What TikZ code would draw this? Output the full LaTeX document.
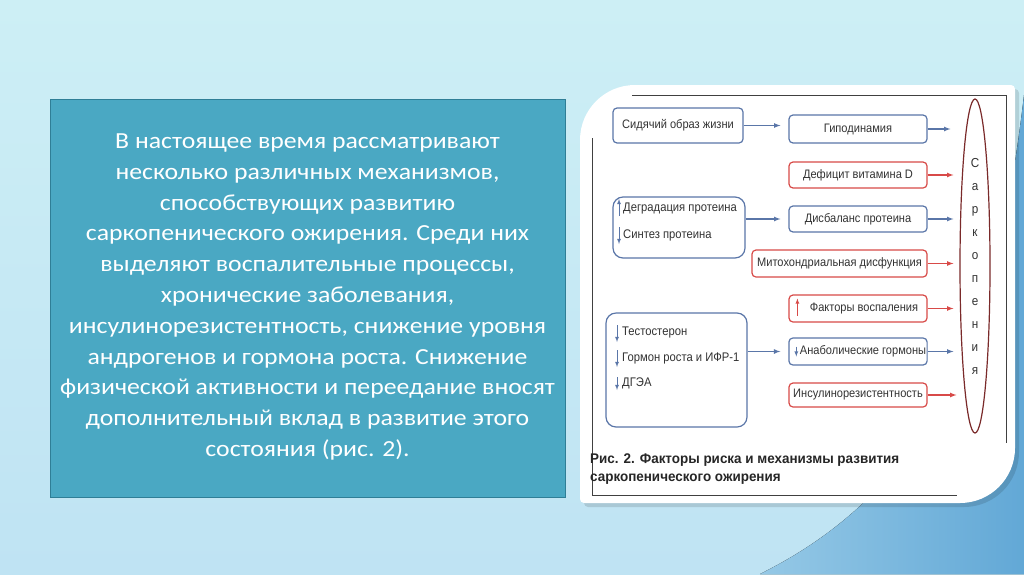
\documentclass[tikz,border=0pt]{standalone}
\usepackage{fontspec}
\setmainfont{Carlito}
\newfontfamily\slidefont[FakeStretch=1.12]{Carlito}
\newfontfamily\figfont[FakeStretch=0.9]{Liberation Sans}
\newfontfamily\capfont[FakeStretch=0.96]{Liberation Sans}
\usetikzlibrary{shapes.geometric,positioning}
\definecolor{bgtop}{HTML}{CDEFF5}
\definecolor{bgbot}{HTML}{BFE3F3}
\definecolor{bgblue}{HTML}{62A8D6}
\definecolor{tealbox}{HTML}{4AA8C3}
\definecolor{tealedge}{HTML}{2F7E96}
\definecolor{boxblue}{HTML}{5A76A8}
\definecolor{boxred}{HTML}{D84A48}
\definecolor{sarkred}{HTML}{7A2A2A}
\definecolor{figtext}{HTML}{333333}

\tikzset{
  bbox/.style={draw=boxblue, line width=1.2pt, rounded corners=4pt, fill=white,
    minimum width=138pt, minimum height=27pt, inner sep=2pt,
    font=\figfont\fontsize{12.3}{15}\selectfont, text=figtext},
  rbox/.style={bbox, draw=boxred},
  bigbox/.style={bbox, rounded corners=10pt},
  itemtxt/.style={anchor=west, inner sep=0pt, font=\figfont\fontsize{12.5}{15}\selectfont, text=figtext},
  barr/.style={-latex, draw=boxblue, line width=1.2pt},
  rarr/.style={-latex, draw=boxred, line width=1.2pt},
  smallarr/.style={-latex, draw=boxblue, line width=0.8pt},
}

\begin{document}
\begin{tikzpicture}[x=1pt,y=-1pt]
  \useasboundingbox (0,0) rectangle (1024,574);
  % background
  \fill[top color=bgtop, bottom color=bgbot] (0,0) rectangle (1024,574);
  \fill[left color=bgblue!45!bgbot, right color=bgblue] (1024,95) .. controls (1000,300) and (950,480) .. (760,574) -- (1024,574) -- cycle;

  % left text panel
  \fill[tealbox, draw=tealedge, line width=1pt] (50,99) rectangle (565,497);
  \node[text=white, align=center, font=\slidefont\fontsize{23}{30.8}\selectfont] (txt) at (307.5,297)
    {В настоящее время рассматривают\\
     несколько различных механизмов,\\
     способствующих развитию\\
     саркопенического ожирения. Среди них\\
     выделяют воспалительные процессы,\\
     хронические заболевания,\\
     инсулинорезистентность, снижение уровня\\
     андрогенов и гормона роста. Снижение\\
     физической активности и переедание вносят\\
     дополнительный вклад в развитие этого\\
     состояния (рис. 2).};

  % figure panel
  \fill[black, opacity=0.12] (584,307) [rounded corners=55pt] -- (584,89) [rounded corners=4pt] -- (1019,89) [rounded corners=55pt] -- (1019,507) [rounded corners=4pt] -- (584,507) -- cycle;
  \fill[white] (580,300) [rounded corners=55pt] -- (580,85) [rounded corners=4pt] -- (1015,85) [rounded corners=55pt] -- (1015,503) [rounded corners=4pt] -- (580,503) -- cycle;
  \draw[black!75, line width=1pt] (632,95) -- (1006,95) -- (1006,443);
  \draw[black!75, line width=1pt] (592,138) -- (592,495) -- (957,495);

  % boxes
  \node[bbox, minimum width=130pt, minimum height=35pt] (sid) at (678,125.5) {Сидячий образ жизни};
  \node[bbox, minimum height=28pt] (gipo) at (858,129) {Гиподинамия};
  \node[rbox, minimum height=26pt] (vitd) at (858,175) {Дефицит витамина D};
  \node[bigbox, minimum width=132pt, minimum height=61pt] (deg) at (679,227.5) {};
  \node[bbox, minimum height=26pt] (disb) at (858,219) {Дисбаланс протеина};
  \node[rbox, minimum width=175pt, inner xsep=1pt] (mito) at (839.5,263.5) {Митохондриальная дисфункция};
  \node[rbox] (fakt) at (858,308.5) {\hspace*{12pt}Факторы воспаления};
  \node[bigbox, minimum width=141pt, minimum height=114pt] (test) at (676.5,370) {};
  \node[bbox, inner xsep=1pt] (anab) at (858,351.5) {\hspace*{10pt}Анаболические гормоны};
  \node[rbox, minimum height=24pt, inner xsep=1pt] (insul) at (858,395) {Инсулинорезистентность};
  \node[ellipse, draw=sarkred, line width=1.2pt, minimum width=30pt, minimum height=334pt,
    inner sep=0pt, align=center, text=figtext, font=\figfont\fontsize{13}{23}\selectfont] (sark) at (975,266)
    {С\\а\\р\\к\\о\\п\\е\\н\\и\\я};

  % texts inside the left boxes
  \node[itemtxt] (degt) at (623,208) {Деградация протеина};
  \node[itemtxt] (sint) at (623,235) {Синтез протеина};
  \node[itemtxt] (testo) at (622,332) {Тестостерон};
  \node[itemtxt] (gorm) at (622,358) {Гормон роста и ИФР-1};
  \node[itemtxt] (dgea) at (622,383) {ДГЭА};
  \draw[smallarr] ([xshift=-4pt,yshift=-8pt]degt.west) -- ([xshift=-4pt,yshift=9pt]degt.west);
  \draw[smallarr] ([xshift=-4pt,yshift=8pt]sint.west) -- ([xshift=-4pt,yshift=-9pt]sint.west);
  \draw[smallarr] ([xshift=-5pt,yshift=7pt]testo.west) -- ([xshift=-5pt,yshift=-10pt]testo.west);
  \draw[smallarr] ([xshift=-5pt,yshift=8pt]gorm.west) -- ([xshift=-5pt,yshift=-9pt]gorm.west);
  \draw[smallarr] ([xshift=-5pt,yshift=6pt]dgea.west) -- ([xshift=-5pt,yshift=-7pt]dgea.west);
  \draw[-latex, draw=boxred, line width=0.8pt] ([xshift=9pt,yshift=-7pt]fakt.west) -- ([xshift=9pt,yshift=10pt]fakt.west);
  \draw[smallarr] ([xshift=8pt,yshift=5pt]anab.west) -- ([xshift=8pt,yshift=-5pt]anab.west);

  % connectors
  \draw[barr, shorten >=8pt] (sid.east) -- (sid.east -| gipo.west);
  \draw[barr, shorten >=8pt] (deg.east |- disb.west) -- (disb.west);
  \draw[barr, shorten >=8pt] (test.east |- anab.west) -- (anab.west);
  \draw[barr, shorten >=9pt] (gipo.east) -- (gipo.east -| sark.west);
  \draw[rarr, shorten >=6pt] (vitd.east) -- (vitd.east -| sark.west);
  \draw[barr, shorten >=6pt] (disb.east) -- (disb.east -| sark.west);
  \draw[rarr, shorten >=6pt] (mito.east) -- (mito.east -| sark.west);
  \draw[rarr, shorten >=6pt] (fakt.east) -- (fakt.east -| sark.west);
  \draw[barr, shorten >=6pt] (anab.east) -- (anab.east -| sark.west);
  \draw[rarr, shorten >=3pt] (insul.east) -- (insul.east -| sark.west);

  % caption
  \node[anchor=west, align=left, inner sep=0pt, text=black!85,
    font=\capfont\bfseries\fontsize{14}{18}\selectfont] (cap) at (590,469)
    {Рис. 2. Факторы риска и механизмы развития\\саркопенического ожирения};
\end{tikzpicture}
\end{document}
